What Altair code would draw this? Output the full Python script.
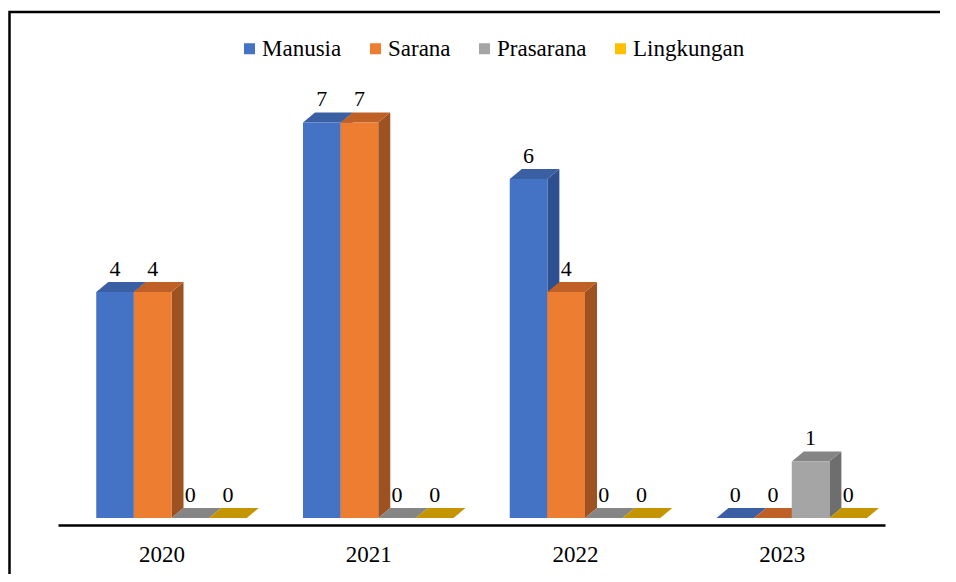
import json
import altair as alt
import pandas as pd

# ---- data ----
years = ["2020", "2021", "2022", "2023"]
series = ["Manusia", "Sarana", "Prasarana", "Lingkungan"]
manusia = [4, 7, 6, 0]
sarana = [4, 7, 4, 0]
prasarana = [0, 0, 0, 1]
lingkungan = [0, 0, 0, 0]
values = [manusia, sarana, prasarana, lingkungan]

# ---- style ----
front_colors = ["#4472C4", "#ED7D31", "#A5A5A5", "#FFC000"]
top_colors = ["#3B5FA3", "#BF6127", "#858585", "#C59500"]
side_colors = ["#2F5090", "#9E5121", "#6E6E6E", "#A47C00"]
FONT = "'Times New Roman', 'Liberation Serif', 'DejaVu Serif', serif"

PLOT_W, PLOT_H = 827, 445
Y_DOMAIN = [-0.124, 7.752]
G0, W = 0.185, 0.182          # group start / bar width in category units
DX = 12 / (PLOT_W / 4)        # 3D depth offset (x, category units)
DY = 10 / (PLOT_H / (Y_DOMAIN[1] - Y_DOMAIN[0]))  # 3D depth offset (y units)

fronts, sides, tops = [], [], []
for j, s in enumerate(series):
    for i, yr in enumerate(years):
        v = values[j][i]
        x0 = i + G0 + j * W
        x1 = x0 + W
        bid = f"{s}-{yr}"
        fronts.append(dict(year=yr, series=s, value=v, x0=x0, x1=x1,
                           xm=(x0 + x1) / 2, base=0))
        sides.append(dict(bid=bid, sx=x1, sy=v, sy2=0, c=side_colors[j]))
        sides.append(dict(bid=bid, sx=x1 + DX, sy=v + DY, sy2=DY, c=side_colors[j]))
        tops.append(dict(bid=bid, ty=v, xa=x0, xb=x1, c=top_colors[j]))
        tops.append(dict(bid=bid, ty=v + DY, xa=x0 + DX, xb=x1 + DX, c=top_colors[j]))

df_f = pd.DataFrame(fronts)
df_s = pd.DataFrame(sides)
df_t = pd.DataFrame(tops)

xs = alt.Scale(domain=[0, 4], nice=False, zero=False)
ys = alt.Scale(domain=Y_DOMAIN, nice=False, zero=False)
xaxis = alt.Axis(
    values=[i + 0.5 for i in range(len(years))],
    labelExpr=f"{json.dumps(years)}[floor(datum.value)]",
    title=None, ticks=False, grid=False,
    domainColor="black", domainWidth=2.5,
    labelFont=FONT, labelFontSize=23, labelColor="black", labelPadding=18,
)

border = alt.Chart(pd.DataFrame({"a": [0]})).mark_rect(
    fillOpacity=0, stroke="black", strokeWidth=2.5
).encode(
    x=alt.value(-48.5), x2=alt.value(960),
    y=alt.value(-68), y2=alt.value(600),
)

side_layer = alt.Chart(df_s).mark_area(orient="vertical").encode(
    x=alt.X("sx:Q", scale=xs, axis=xaxis),
    y=alt.Y("sy:Q", scale=ys, axis=None, stack=None),
    y2="sy2:Q",
    detail="bid:N",
    color=alt.Color("c:N", scale=None),
)

top_layer = alt.Chart(df_t).mark_area(orient="horizontal").encode(
    y=alt.Y("ty:Q", scale=ys, axis=None),
    x=alt.X("xa:Q", scale=xs, axis=xaxis, stack=None),
    x2="xb:Q",
    detail="bid:N",
    color=alt.Color("c:N", scale=None),
)

front_layer = alt.Chart(df_f).mark_rect().encode(
    x=alt.X("x0:Q", scale=xs, axis=xaxis),
    x2="x1:Q",
    y=alt.Y("value:Q", scale=ys, axis=None),
    y2="base:Q",
    color=alt.Color(
        "series:N",
        scale=alt.Scale(domain=series, range=front_colors),
        legend=alt.Legend(
            title=None, orient="none", legendX=180, legendY=-43,
            direction="horizontal", columns=4,
            symbolType="square", symbolSize=121, symbolStrokeWidth=0,
            symbolOpacity=1,
            labelFont=FONT, labelFontSize=23, labelColor="black",
            labelOffset=1, columnPadding=22, padding=0,
        ),
    ),
)

label_layer = alt.Chart(df_f).mark_text(
    font=FONT, fontSize=22, color="black", dy=-16, baseline="alphabetic"
).encode(
    x=alt.X("xm:Q", scale=xs, axis=xaxis),
    y=alt.Y("value:Q", scale=ys, axis=None),
    text=alt.Text("value:Q"),
)

chart = alt.layer(border, side_layer, top_layer, front_layer, label_layer).properties(
    width=PLOT_W, height=PLOT_H,
    padding={"left": 50, "top": 72, "right": 55, "bottom": 49},
    autosize=alt.AutoSizeParams(type="none"),
    background="white",
).configure_view(strokeWidth=0)

chart.save("out.html", embed_options={"renderer": "svg", "actions": False})
